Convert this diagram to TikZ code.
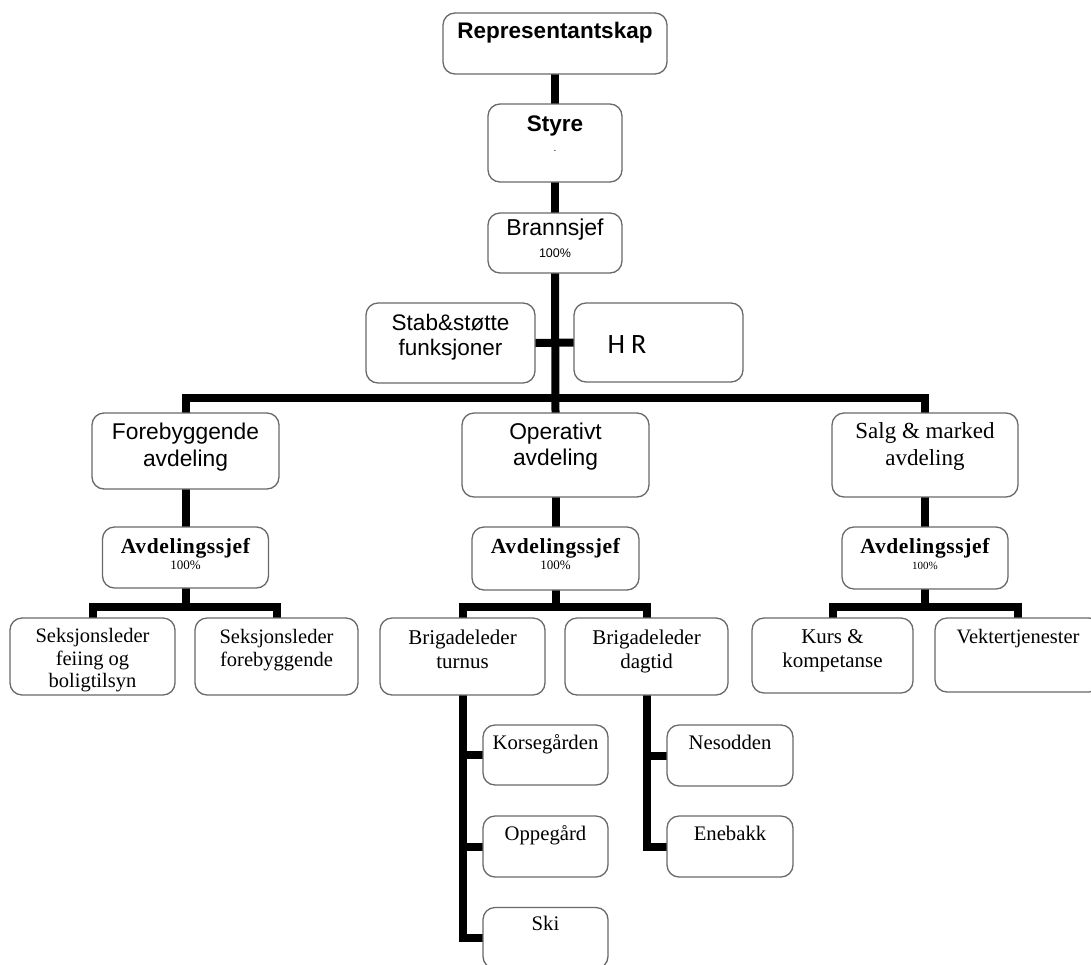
\documentclass[tikz,border=0pt]{standalone}
\usepackage{fontspec}
\setmainfont{Liberation Serif}
\newfontfamily\arialf{Liberation Sans}
\newfontfamily\carl{Carlito}
\newfontfamily\avfont[LetterSpace=3]{Liberation Serif}
\usetikzlibrary{backgrounds}
\newcommand{\fs}[2]{\fontsize{#1}{#2}\selectfont}
\newcommand{\bt}[4]{\parbox[c][#2pt][t]{#1pt}{\centering\rule{0pt}{#3pt}#4\par}}
\definecolor{boxgray}{RGB}{105,105,105}
\tikzset{
  box/.style={draw=boxgray, line width=1.3pt, rounded corners=12pt, fill=white, inner sep=0pt, outer sep=0pt},
  conn/.style={line width=8pt, line join=miter, draw=black}
}
\begin{document}
\begin{tikzpicture}[x=1pt,y=-1pt]
\useasboundingbox (0,0) rectangle (1091,964);
\clip (0,0) rectangle (1091,964);
% top chain
\node[box] (rep) at (555,43.5) {\bt{224}{61}{25}{\arialf\fs{22.5}{27}\bfseries Representantskap}};
\node[box] (styre) at (555,143) {\bt{134}{78}{27}{\arialf\fs{22.5}{20}\bfseries Styre\\{\mdseries\fs{10}{20}.}}};
\node[box] (brann) at (555,243) {\bt{134}{60}{22.5}{\arialf\fs{23}{22}Brannsjef\\{\fs{12.5}{22}100\%}}};
\node[box] (stab) at (450.5,343) {\bt{169}{80}{27.5}{\arialf\fs{22.5}{25}Stab\&støtte\\funksjoner}};
\node[box] (hr) at (658.5,342.5) {\bt{169}{79}{50}{\carl\fs{28}{30}H\hspace{6pt}R\rule{63pt}{0pt}}};
% departments
\node[box] (fore) at (185.5,451) {\bt{187}{76}{26}{\arialf\fs{22.8}{27}Forebyggende\\avdeling}};
\node[box] (opr) at (555.5,455) {\bt{187}{84}{26.5}{\arialf\fs{22.8}{26}Operativt\\avdeling}};
\node[box] (salg) at (925,455) {\bt{186}{84}{25.5}{\fs{23}{27}Salg \& marked\\avdeling}};
% department heads
\node[box] (av1) at (185.5,557.5) {\bt{166}{61}{26}{\avfont\fs{21.5}{16.3}\bfseries Avdelingssjef\\{\normalfont\fs{13}{16.3}100\%}}};
\node[box] (av2) at (555.5,558.5) {\bt{167}{63}{26}{\avfont\fs{21.5}{16.3}\bfseries Avdelingssjef\\{\normalfont\fs{13}{16.3}100\%}}};
\node[box] (av3) at (925,558) {\bt{166}{62}{26}{\avfont\fs{21.5}{16.3}\bfseries Avdelingssjef\\{\normalfont\fs{11}{16.3}100\%}}};
% sections
\node[box] (sek1) at (92.5,656.5) {\bt{165}{77}{24.7}{\fs{20.5}{22.5}Seksjonsleder\\feiing og\\boligtilsyn}};
\node[box] (sek2) at (276.5,656.5) {\bt{163}{77}{25.3}{\fs{20.5}{23}Seksjonsleder\\forebyggende}};
\node[box] (brt) at (462.5,656.5) {\bt{165}{77}{26}{\fs{21}{24}Brigadeleder\\turnus}};
\node[box] (brd) at (646.5,656.5) {\bt{163}{77}{26}{\fs{21}{24}Brigadeleder\\dagtid}};
\node[box] (kurs) at (832.5,655.5) {\bt{161}{75}{25}{\fs{21}{24}Kurs \&\\kompetanse}};
\node[box] (vek) at (1018,655) {\bt{166}{74}{25}{\fs{20.5}{24}Vektertjenester}};
% stations
\node[box] (kors) at (545.5,755) {\bt{125}{60}{24}{\fs{20.7}{24}Korsegården}};
\node[box] (opp) at (545.5,846.5) {\bt{125}{61}{24}{\fs{20.7}{24}Oppegård}};
\node[box] (ski) at (545.5,938) {\bt{125}{61}{23}{\fs{20.7}{24}Ski}};
\node[box] (nes) at (730,755.5) {\bt{126}{61}{24}{\fs{20.7}{24}Nesodden}};
\node[box] (ene) at (730,846.5) {\bt{126}{61}{24}{\fs{20.7}{24}Enebakk}};
% junction coordinates
\coordinate (bar) at (555.5,398);
\coordinate (b1) at (185.5,607);
\coordinate (b2) at (555.5,607);
\coordinate (b3) at (925,607);
\begin{scope}[on background layer]
\draw[conn] (rep.south) -- (styre.north);
\draw[conn] (styre.south) -- (brann.north);
\draw[conn] (brann.south) -- (opr.north);
\draw[conn] (stab.east) -- (hr.west);
\draw[conn] (fore.north) |- (bar) -| (salg.north);
\draw[conn] (fore.south) -- (av1.north);
\draw[conn] (opr.south) -- (av2.north);
\draw[conn] (salg.south) -- (av3.north);
\draw[conn] (av1.south) -- (b1);
\draw[conn] (sek1.north) |- (b1) -| (sek2.north);
\draw[conn] (av2.south) -- (b2);
\draw[conn] (brt.north) |- (b2) -| (brd.north);
\draw[conn] (av3.south) -- (b3);
\draw[conn] (kurs.north) |- (b3) -| (vek.north);
\draw[conn] (brt.south) |- (ski.west);
\draw[conn] (brt.south |- kors.west) -- (kors.west);
\draw[conn] (brt.south |- opp.west) -- (opp.west);
\draw[conn] (brd.south) |- (ene.west);
\draw[conn] (brd.south |- nes.west) -- (nes.west);
\end{scope}
\end{tikzpicture}
\end{document}
